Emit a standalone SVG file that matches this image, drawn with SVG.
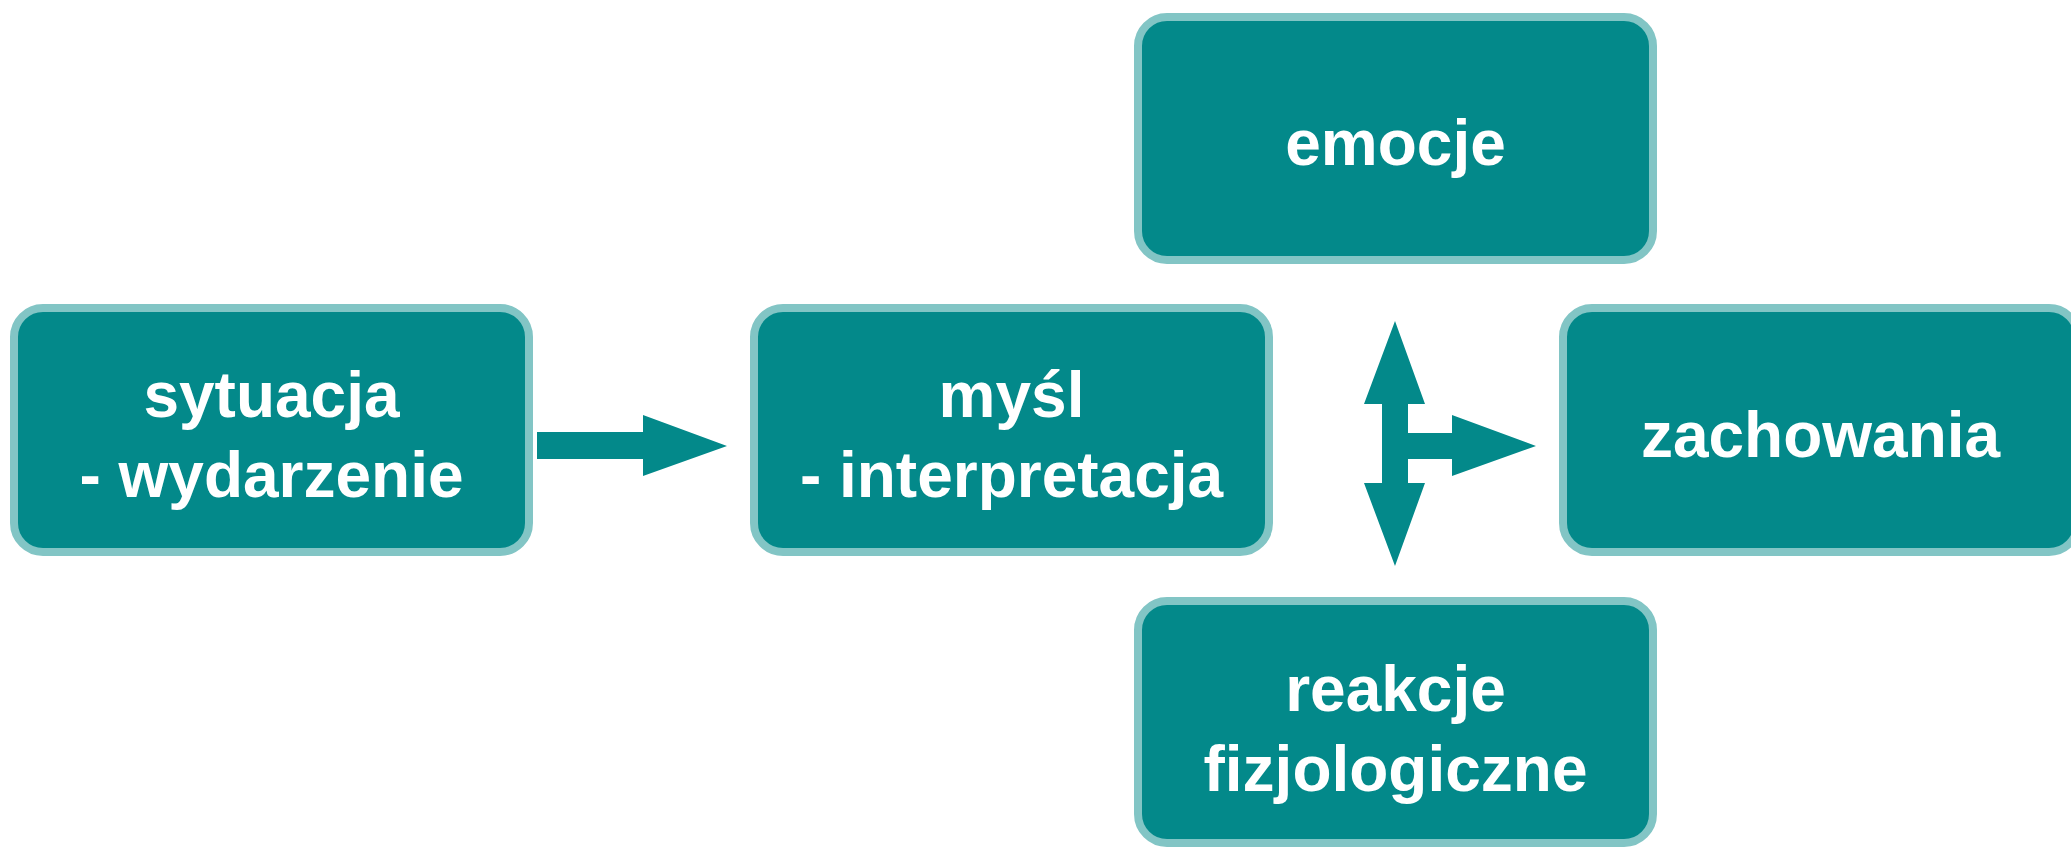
<svg xmlns="http://www.w3.org/2000/svg" width="2071" height="848" viewBox="0 0 2071 848">
<style>
.box{fill:#03898A;stroke:#82C5C5;stroke-width:8}
.lbl{fill:#FFFFFF;font-family:"Liberation Sans",Arial,sans-serif;font-weight:bold;font-size:64px;text-anchor:middle}
.conn{fill:#03898A;stroke:none}
</style>
<rect width="2071" height="848" fill="#FFFFFF"/>
<g id="connectors">
<polygon class="conn" points="537,432 643,432 643,415 727,446 643,476 643,459 537,459"/>
<polygon class="conn" points="1395,321 1425,404 1408,404 1408,433 1452,433 1452,415 1536,446 1452,476 1452,459 1408,459 1408,483 1425,483 1395,566 1364,483 1382,483 1382,404 1364,404"/>
</g>
<g id="node-sytuacja">
<rect class="box" x="14" y="308" width="515" height="244" rx="29"/>
<text class="lbl" x="271.5" y="417">sytuacja</text>
<text class="lbl" x="271.5" y="497">- wydarzenie</text>
</g>
<g id="node-mysl">
<rect class="box" x="754" y="308" width="515" height="244" rx="29"/>
<text class="lbl" x="1011.5" y="417">myśl</text>
<text class="lbl" x="1011.5" y="497">- interpretacja</text>
</g>
<g id="node-emocje">
<rect class="box" x="1138" y="17" width="515" height="243" rx="29"/>
<text class="lbl" x="1395.5" y="165">emocje</text>
</g>
<g id="node-zachowania">
<rect class="box" x="1563" y="308" width="515" height="244" rx="29"/>
<text class="lbl" x="1820.5" y="457">zachowania</text>
</g>
<g id="node-reakcje">
<rect class="box" x="1138" y="601" width="515" height="242" rx="29"/>
<text class="lbl" x="1395.5" y="711">reakcje</text>
<text class="lbl" x="1395.5" y="791">fizjologiczne</text>
</g>
</svg>
